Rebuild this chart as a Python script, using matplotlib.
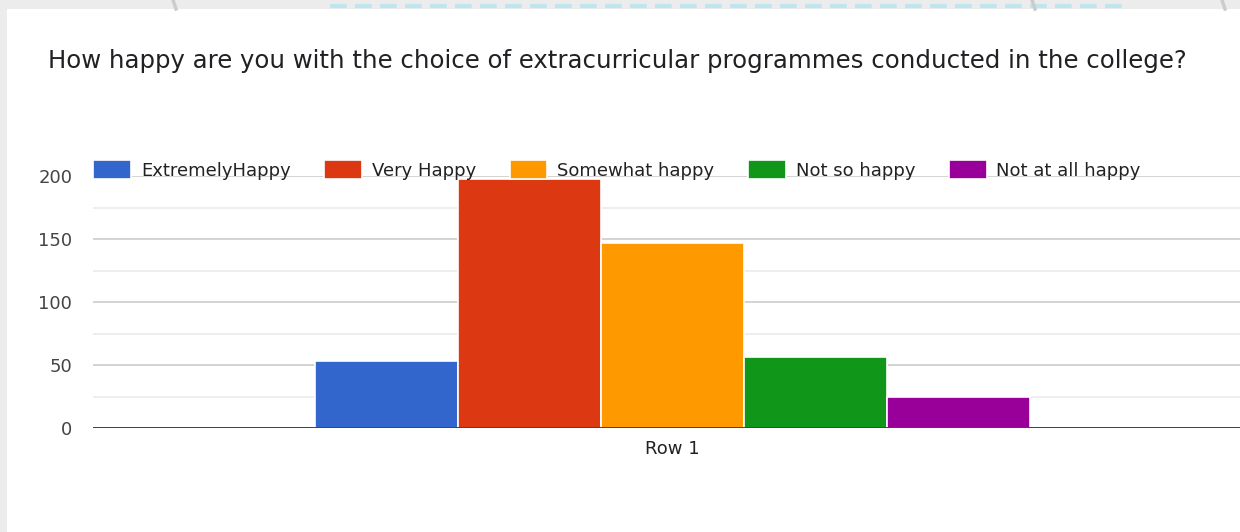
import matplotlib.pyplot as plt
from matplotlib.patches import Rectangle
from matplotlib.lines import Line2D
import numpy as np

title = "How happy are you with the choice of extracurricular programmes conducted in the college?"
categories = ["ExtremelyHappy", "Very Happy", "Somewhat happy", "Not so happy", "Not at all happy"]
values = [53, 198, 147, 56, 25]
colors = ["#3366cc", "#dc3912", "#ff9900", "#109618", "#990099"]
row_label = "Row 1"
yticks = [0, 50, 100, 150, 200]

plt.rcParams['font.family'] = ['DejaVu Sans']

fig = plt.figure(figsize=(12.4, 5.32), dpi=100)
fig.patch.set_facecolor("white")

# page background around the card
fig.patches.append(Rectangle((0, 1 - 9/532), 1, 9/532, transform=fig.transFigure,
                             facecolor="#ececec", edgecolor="none", zorder=0))
fig.patches.append(Rectangle((0, 0), 7/1240, 1, transform=fig.transFigure,
                             facecolor="#ececec", edgecolor="none", zorder=0))
fig.lines.append(Line2D([330/1240, 1125/1240], [1 - 6/532, 1 - 6/532], transform=fig.transFigure,
                        color="#bfe6ee", linestyle=(0, (4, 2)), linewidth=3, zorder=1))
for gx in [173, 1032, 1222]:
    fig.lines.append(Line2D([gx/1240, (gx + 3)/1240], [1.0, 1 - 9/532], transform=fig.transFigure,
                            color="#cccccc", linewidth=2.5, zorder=1))

ax = fig.add_axes([93/1240, (532-428)/532, 1 - 93/1240, (428-176)/532])

x = np.arange(len(values))
for i in range(len(values)):
    ax.bar(x[i], values[i], width=1.0, color=colors[i], edgecolor="white",
           linewidth=1.2, label=categories[i], zorder=3)

ax.set_ylim(0, 200)
ax.set_xlim(-2.05, 5.97)
ax.set_yticks(yticks)
ax.set_yticks([25, 75, 125, 175], minor=True)
ax.set_xticks([2])
ax.set_xticklabels([row_label])
ax.grid(axis="y", which="major", color="#cccccc", linewidth=1.2, zorder=0)
ax.grid(axis="y", which="minor", color="#ebebeb", linewidth=1.2, zorder=0)
ax.axhline(0, color="#333333", linewidth=2.0, zorder=4)
for s in ax.spines.values():
    s.set_visible(False)
ax.tick_params(axis="both", which="both", length=0, labelsize=13, colors="#444444")
ax.tick_params(axis="y", pad=15)
ax.tick_params(axis="x", pad=9, labelcolor="#222222")

leg = ax.legend(ncol=5, loc="lower left", bbox_to_anchor=(0.0, 0.985), frameon=False,
                fontsize=13, handlelength=2.1, handleheight=1.25, handletextpad=0.55,
                columnspacing=1.85, borderaxespad=0, borderpad=0)
for t in leg.get_texts():
    t.set_color("#222222")

fig.text(48/1240, 1 - 61/532, title, fontsize=17.6, color="#202124",
         va="center", ha="left")

fig.savefig("out.png", dpi=100)
